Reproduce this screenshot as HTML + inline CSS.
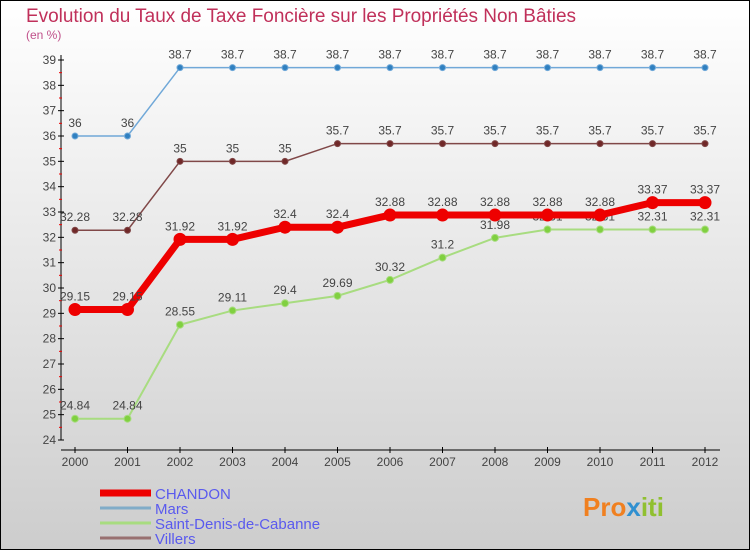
<!DOCTYPE html>
<html><head><meta charset="utf-8"><style>
html,body{margin:0;padding:0}
body{width:750px;height:550px;overflow:hidden;font-family:"Liberation Sans",sans-serif}
</style></head><body>
<svg id="chart" width="750" height="550" xmlns="http://www.w3.org/2000/svg">
<defs><linearGradient id="bg" x1="0" y1="0" x2="0" y2="1"><stop offset="0" stop-color="#ffffff"/><stop offset="1" stop-color="#cdcdcd"/></linearGradient></defs>
<rect x="0.5" y="0.5" width="749" height="549" fill="url(#bg)" stroke="#000"/>
<text x="26" y="22" font-size="19" fill="#c0305a" textLength="550">Evolution du Taux de Taxe Foncière sur les Propriétés Non Bâties</text>
<text x="26" y="39" font-size="12" fill="#c0508a">(en %)</text>
<g id="axes"></g><g id="series"></g><g id="legend"></g>
<text x="583" y="516" font-size="26" font-weight="bold" fill="#f08020">Pro<tspan fill="#3090d0">x</tspan><tspan fill="#90c030">iti</tspan></text>
</svg>
<script>
const years=[2000,2001,2002,2003,2004,2005,2006,2007,2008,2009,2010,2011,2012];
const chandon=[29.15,29.15,31.92,31.92,32.4,32.4,32.88,32.88,32.88,32.88,32.88,33.37,33.37];
const mars=[36,36,38.7,38.7,38.7,38.7,38.7,38.7,38.7,38.7,38.7,38.7,38.7];
const stdenis=[24.84,24.84,28.55,29.11,29.4,29.69,30.32,31.2,31.98,32.31,32.31,32.31,32.31];
const villers=[32.28,32.28,35,35,35,35.7,35.7,35.7,35.7,35.7,35.7,35.7,35.7];
const yTicks=[24,25,26,27,28,29,30,31,32,33,34,35,36,37,38,39];
const seriesNames=["CHANDON","Mars","Saint-Denis-de-Cabanne","Villers"];
const NS="http://www.w3.org/2000/svg";
function x(i){return 75+i*52.5;}
function y(v){return 440-(v-24)*(380/15);}
function mk(p,tag,at){const e=document.createElementNS(NS,tag);for(const k in at)e.setAttribute(k,at[k]);p.appendChild(e);return e;}
const ax=document.getElementById('axes');
let yl=mk(ax,'line',{x1:61,y1:55,x2:61,y2:440,stroke:'#000'});


let xl=mk(ax,'line',{x1:61,y1:450,x2:720,y2:450,stroke:'#000'});


yTicks.forEach(v=>{
  mk(ax,'line',{x1:58,y1:y(v),x2:64,y2:y(v),stroke:'#000'});
  if(v<39)mk(ax,'line',{x1:59,y1:y(v+0.5),x2:62,y2:y(v+0.5),stroke:'#e00'});
  const t=mk(ax,'text',{x:56,y:y(v)+4,'font-size':12,'text-anchor':'end',fill:'#444'});
  
  
  t.textContent=v;
});
years.forEach((yr,i)=>{
  mk(ax,'line',{x1:x(i),y1:447,x2:x(i),y2:453,stroke:'#000'});
  const t=mk(ax,'text',{x:x(i),y:466,'font-size':12,'text-anchor':'middle',fill:'#444'});
  
  
  t.textContent=yr;
});
const sg=document.getElementById('series');
function draw(data,color,w,r,fill,name){
  const g=mk(sg,'g',{});
  
  
  mk(g,'polyline',{points:data.map((v,i)=>x(i)+','+y(v)).join(' '),fill:'none',stroke:color,'stroke-width':w});
  data.forEach((v,i)=>{
    const c=mk(g,'circle',{cx:x(i),cy:y(v),r:r,fill:fill,stroke:color,'stroke-width':1});
    
    
    const t=mk(g,'text',{x:x(i),y:y(v)-9,'font-size':12,'text-anchor':'middle',fill:'#444'});
    
    
    t.textContent=v;
  });
}
draw(stdenis,'#a8dc80',2,3.5,'#80d040','stdenis');
draw(villers,'#804848',1.5,3,'#702828','villers');
draw(mars,'#70a8d8',1.5,3,'#3080c0','mars');
draw(chandon,'#ee0000',7,6,'#ee0000','chandon');
const lg=document.getElementById('legend');
const lc=['#ee0000','#80acc8','#a8dc80','#987070'],lw=[7,3,3,3];
seriesNames.forEach((n,k)=>{
  const yy=493+k*15;
  const g=mk(lg,'g',{});
  
  
  mk(g,'line',{x1:100,y1:yy,x2:151,y2:yy,stroke:lc[k],'stroke-width':lw[k]});
  const t=mk(g,'text',{x:155,y:yy+6,'font-size':15,fill:'#5a5aee'});
  t.textContent=n;
});
</script>
</body></html>
